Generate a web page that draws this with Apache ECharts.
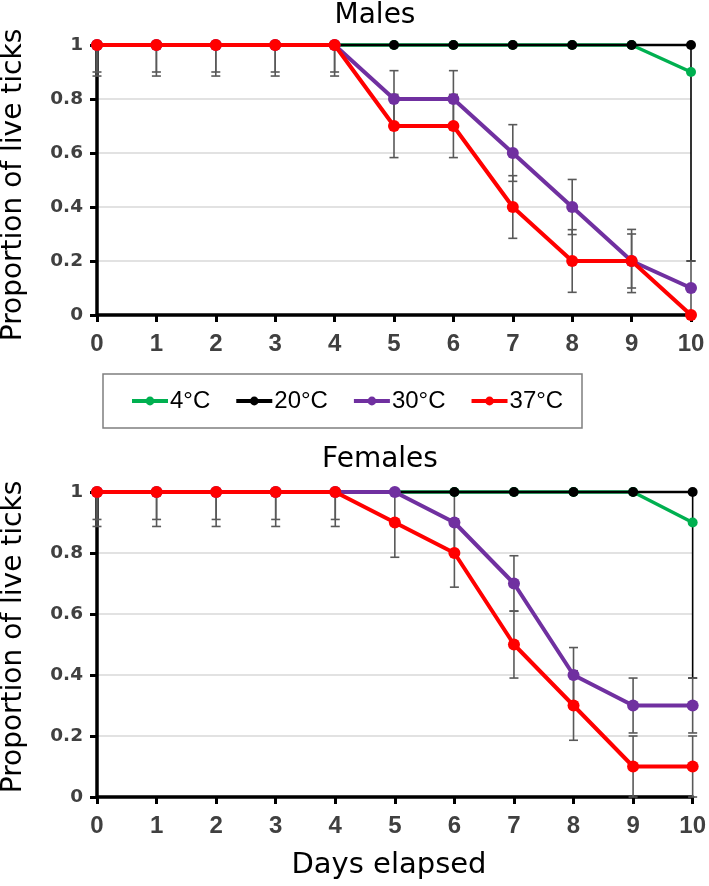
<!DOCTYPE html>
<html><head><meta charset="utf-8">
<script src="https://cdn.jsdelivr.net/npm/echarts@6/dist/echarts.min.js"></script>
<style>html,body{margin:0;padding:0;background:#fff}#c{width:709px;height:886px}</style>
</head><body><div id="c"></div>
<script>
// ---- data ----
const days = [0,1,2,3,4,5,6,7,8,9,10];
const seriesNames = ['4°C','20°C','30°C','37°C'];
const seriesColors = ['#00b050','#000000','#7030a0','#ff0000'];
const panelTitles = ['Males','Females'];
const yTitle = 'Proportion of live ticks';
const xTitle = 'Days elapsed';

const males4  = [1,1,1,1,1,1,1,1,1,1,0.9];
const males20 = [1,1,1,1,1,1,1,1,1,1,1];
const males30 = [1,1,1,1,1,0.8,0.8,0.6,0.4,0.2,0.1];
const males37 = [1,1,1,1,1,0.7,0.7,0.4,0.2,0.2,0];

const females4  = [1,1,1,1,1,1,1,1,1,1,0.9];
const females20 = [1,1,1,1,1,1,1,1,1,1,1];
const females30 = [1,1,1,1,1,1,0.9,0.7,0.4,0.3,0.3];
const females37 = [1,1,1,1,1,0.9,0.8,0.5,0.3,0.1,0.1];

// symmetric error half-widths
const malesErr4  = [0,0,0,0,0,0,0,0,0,0,0.7];
const malesErr20 = [0,0,0,0,0,0,0,0,0,0,0];
const malesErr30 = [0.1,0.1,0.1,0.1,0.1,0.105,0.105,0.105,0.102,0.1,0.1];
const malesErr37 = [0.115,0.115,0.115,0.115,0.115,0.117,0.117,0.116,0.116,0.117,0];

const femalesErr4  = [0,0,0,0,0,0,0,0,0,0,0.51];
const femalesErr20 = [0,0,0,0,0,0,0,0,0,0,0];
const femalesErr30 = [0.09,0.09,0.09,0.09,0.09,0,0.1,0.091,0.09,0.09,0.09];
const femalesErr37 = [0.113,0.113,0.113,0.113,0.113,0.114,0.112,0.11,0.114,0.1,0.1];

const panels = [
  {vals:[males4,males20,males30,males37], errs:[malesErr4,malesErr20,malesErr30,malesErr37]},
  {vals:[females4,females20,females30,females37], errs:[femalesErr4,femalesErr20,femalesErr30,femalesErr37]}
];

// ---- styling ----
const lineWidths = [3.5,2.5,4,4];
const symbolSizes = [10,10,12,12];
const errColors = ['#000000','#595959','#595959','#595959'];

const chart = echarts.init(document.getElementById('c'), null, {renderer:'canvas'});

function errSeries(gi, vals, errs, color, z) {
  return {
    type:'custom', xAxisIndex:gi, yAxisIndex:gi, z:z, silent:true, clip:false,
    data: days.map((d,i)=>[d, vals[i]-errs[i], vals[i]+errs[i]]),
    encode:{x:0, y:[1,2]},
    renderItem(params, api) {
      const x = api.value(0), lo = api.value(1), hi = api.value(2);
      if (!(hi - lo > 0)) return null;
      const clo = Math.max(lo,0), chi = Math.min(hi,1);
      const p1 = api.coord([x, chi]), p2 = api.coord([x, clo]);
      const st = {stroke:color, lineWidth:1.6};
      const ch = [{type:'line', shape:{x1:p1[0],y1:p1[1],x2:p2[0],y2:p2[1]}, style:st}];
      const w = 4.5;
      if (hi <= 1) ch.push({type:'line', shape:{x1:p1[0]-w,y1:p1[1],x2:p1[0]+w,y2:p1[1]}, style:st});
      if (lo >= 0) ch.push({type:'line', shape:{x1:p2[0]-w,y1:p2[1],x2:p2[0]+w,y2:p2[1]}, style:st});
      return {type:'group', children:ch};
    }
  };
}

function lineSeries(gi, k, data) {
  const c = seriesColors[k];
  return {
    type:'line', name:seriesNames[k], xAxisIndex:gi, yAxisIndex:gi,
    data: days.map((d,i)=>[d, data[i]]),
    symbol:'circle', symbolSize:symbolSizes[k], showSymbol:true, clip:false,
    lineStyle:{color:c, width:lineWidths[k]}, itemStyle:{color:c},
    z: 3 + k, animation:false, emphasis:{disabled:true}
  };
}

const series = [];
panels.forEach((p, gi) => {
  p.errs.forEach((e, k) => series.push(errSeries(gi, p.vals[k], e, errColors[k], 2)));
  p.vals.forEach((v, k) => series.push(lineSeries(gi, k, v)));
});

const grids = [
  {left:97, top:45, width:594, height:270},
  {left:97, top:492, width:599, height:305}
];

const xAxes = [0,1].map(gi => ({
  gridIndex:gi, type:'value', min:0, max:10, interval:1,
  axisLine:{show:true, onZero:false, lineStyle:{color:'#000', width:3.5}},
  axisTick:{show:true, length:7, lineStyle:{color:'#000', width:3}},
  axisLabel:{fontFamily:'Liberation Sans', fontWeight:'bold', fontSize:24, color:'#404040', margin:17},
  splitLine:{show:false}
}));

const yAxes = [0,1].map(gi => ({
  gridIndex:gi, type:'value', min:0, max:1, interval:0.2,
  axisLine:{show:true, onZero:false, lineStyle:{color:'#000', width:3.5}},
  axisTick:{show:true, length:7, lineStyle:{color:'#000', width:3}},
  axisLabel:{fontFamily:'DejaVu Sans', fontWeight:'bold', fontSize:18.5, color:'#404040', margin:14,
    formatter: v => String(Math.round(v*10)/10)},
  splitLine:{show:true, lineStyle:{color:'#d9d9d9', width:1.5}}
}));

const titleFont = '28px "DejaVu Sans"';
const graphic = [
  {type:'rect', shape:{x:103, y:374, width:479, height:54}, style:{fill:'none', stroke:'#7f7f7f', lineWidth:1.5}, z:-1},
  {type:'text', x:375, y:16, style:{text:panelTitles[0], font:titleFont, fill:'#000', align:'center', verticalAlign:'middle', textAlign:'center', textVerticalAlign:'middle'}},
  {type:'text', x:380, y:460, style:{text:panelTitles[1], font:titleFont, fill:'#000', align:'center', verticalAlign:'middle', textAlign:'center', textVerticalAlign:'middle'}},
  {type:'text', x:389, y:865, style:{text:xTitle, font:'29px "DejaVu Sans"', fill:'#000', align:'center', verticalAlign:'middle', textAlign:'center', textVerticalAlign:'middle'}},
  {type:'text', x:14, y:185, rotation:Math.PI/2, style:{text:yTitle, font:titleFont, fill:'#000', align:'center', verticalAlign:'middle', textAlign:'center', textVerticalAlign:'middle'}},
  {type:'text', x:14, y:637, rotation:Math.PI/2, style:{text:yTitle, font:titleFont, fill:'#000', align:'center', verticalAlign:'middle', textAlign:'center', textVerticalAlign:'middle'}}
];

chart.setOption({
  animation:false,
  backgroundColor:'#fff',
  grid:grids, xAxis:xAxes, yAxis:yAxes,
  legend:{
    data:seriesNames, left:130, top:389, orient:'horizontal', padding:0,
    itemWidth:36, itemHeight:11, itemGap:24, selectedMode:false,
    lineStyle:{width:4},
    textStyle:{fontFamily:'Liberation Sans', fontSize:24, color:'#000', padding:[0,0,0,-3]}
  },
  graphic:graphic,
  series:series
});
</script></body></html>
